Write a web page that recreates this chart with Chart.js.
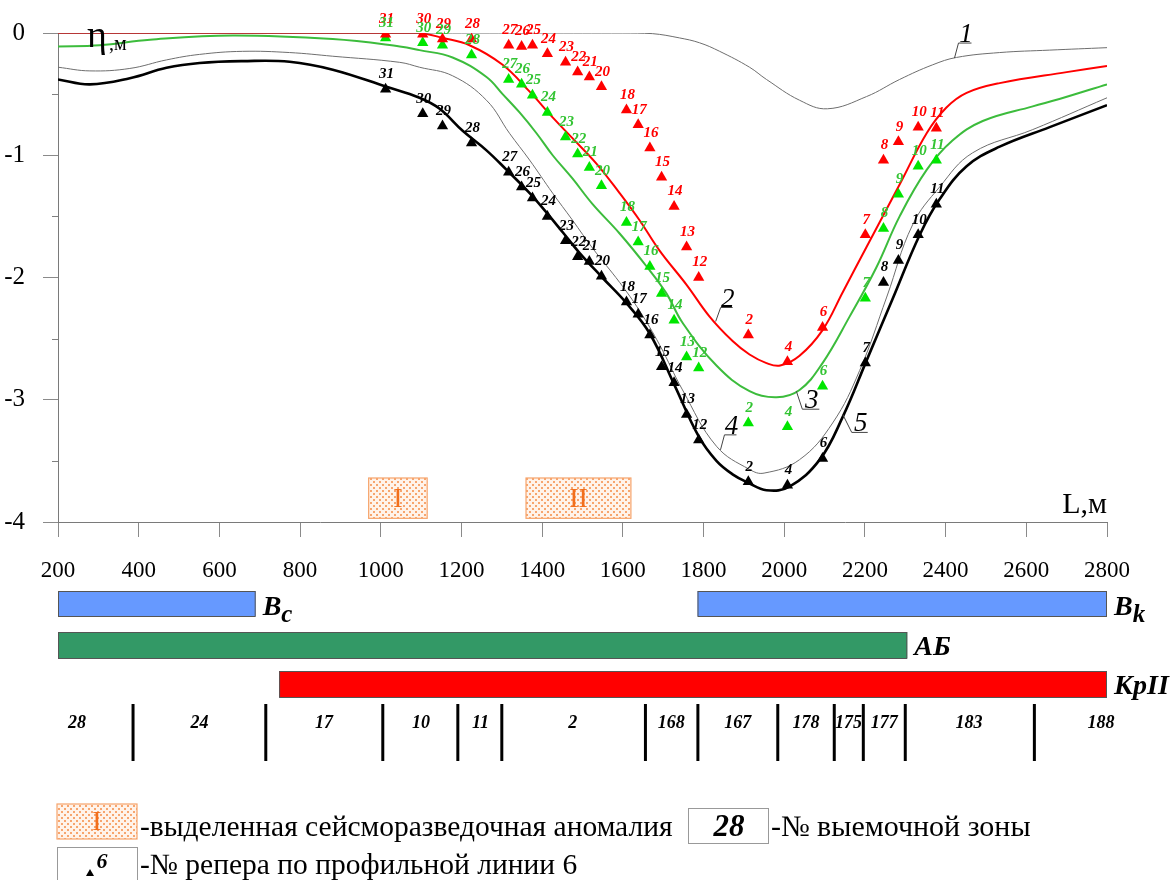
<!DOCTYPE html>
<html>
<head>
<meta charset="utf-8">
<script src="https://cdn.jsdelivr.net/npm/chart.js@4.4.1/dist/chart.umd.min.js"></script>
<style>
  html, body { margin: 0; padding: 0; background: #fff; }
  #wrap { width: 1173px; height: 880px; }
</style>
</head>
<body>
<div id="wrap"><canvas id="subsidence" width="1173" height="880"></canvas></div>
<script>
// --- data ---
// benchmarks (репера) of profile line 6
const benchNums = [31, 30, 29, 28, 27, 26, 25, 24, 23, 22, 21, 20, 18, 17, 16, 15, 14, 13, 12, 2, 4, 6, 7, 8, 9, 10, 11];
const benchL = [1012, 1104, 1153, 1225, 1317, 1349, 1376, 1413, 1458, 1488, 1517, 1547, 1609, 1638, 1667, 1696, 1727, 1758, 1788, 1911, 2008, 2095, 2201, 2246, 2283, 2332, 2377];
const redBench = [-0.01, -0.01, -0.05, -0.05, -0.10, -0.11, -0.10, -0.17, -0.24, -0.32, -0.36, -0.44, -0.63, -0.75, -0.94, -1.18, -1.42, -1.75, -2.00, -2.47, -2.69, -2.41, -1.65, -1.04, -0.89, -0.77, -0.78];
const greenBench = [-0.04, -0.08, -0.10, -0.18, -0.38, -0.42, -0.51, -0.65, -0.85, -0.99, -1.10, -1.25, -1.55, -1.71, -1.91, -2.13, -2.35, -2.65, -2.74, -3.19, -3.22, -2.89, -2.17, -1.60, -1.32, -1.09, -1.04];
const blackBench = [-0.46, -0.66, -0.76, -0.90, -1.14, -1.26, -1.35, -1.50, -1.70, -1.83, -1.87, -1.99, -2.20, -2.30, -2.47, -2.73, -2.86, -3.12, -3.33, -3.67, -3.70, -3.48, -2.70, -2.04, -1.86, -1.65, -1.40];

// curves 1..5
const curve1L = [200, 600, 1000, 1400, 1600, 1673, 1740, 1790, 1840, 1914, 1956, 2038, 2107, 2204, 2286, 2368, 2427, 2534, 2658, 2800];
const curve1V = [0, 0, 0, 0, 0, -0.005, -0.04, -0.08, -0.15, -0.28, -0.38, -0.55, -0.62, -0.52, -0.38, -0.26, -0.20, -0.16, -0.14, -0.12];
const curve2L = [200, 600, 1000, 1096, 1153, 1220, 1302, 1369, 1426, 1475, 1535, 1592, 1641, 1691, 1758, 1815, 1872, 1914, 1956, 1990, 2038, 2095, 2145, 2204, 2286, 2353, 2402, 2452, 2534, 2700, 2800];
const curve2V = [0, 0, 0, 0, -0.04, -0.10, -0.26, -0.48, -0.69, -0.86, -1.07, -1.31, -1.53, -1.78, -2.06, -2.32, -2.52, -2.63, -2.70, -2.72, -2.64, -2.43, -2.12, -1.75, -1.24, -0.82, -0.61, -0.49, -0.41, -0.32, -0.27];
const curve3L = [200, 303, 428, 633, 881, 1047, 1096, 1178, 1262, 1302, 1344, 1386, 1426, 1475, 1525, 1592, 1659, 1708, 1748, 1832, 1914, 1981, 2038, 2095, 2162, 2228, 2286, 2353, 2417, 2492, 2616, 2682, 2800];
const curve3V = [-0.11, -0.10, -0.055, -0.02, -0.05, -0.11, -0.14, -0.20, -0.36, -0.50, -0.65, -0.82, -1.00, -1.19, -1.40, -1.64, -1.91, -2.13, -2.37, -2.72, -2.93, -2.98, -2.92, -2.70, -2.32, -1.92, -1.50, -1.12, -0.88, -0.72, -0.60, -0.54, -0.42];
const curve4L = [200, 279, 378, 469, 551, 657, 774, 881, 1047, 1096, 1178, 1262, 1319, 1369, 1426, 1475, 1525, 1592, 1641, 1691, 1748, 1832, 1914, 1950, 2038, 2120, 2187, 2254, 2318, 2385, 2467, 2616, 2800];
const curve4V = [-0.28, -0.31, -0.29, -0.22, -0.175, -0.15, -0.16, -0.19, -0.24, -0.28, -0.35, -0.55, -0.82, -1.04, -1.31, -1.53, -1.76, -2.04, -2.27, -2.55, -2.92, -3.38, -3.57, -3.60, -3.49, -3.19, -2.76, -2.16, -1.57, -1.26, -0.98, -0.79, -0.53];
const curve5L = [200, 279, 378, 469, 551, 657, 774, 881, 1014, 1096, 1146, 1203, 1262, 1312, 1369, 1411, 1451, 1493, 1549, 1609, 1667, 1728, 1788, 1832, 1872, 1911, 1956, 2013, 2088, 2145, 2204, 2268, 2336, 2385, 2452, 2534, 2658, 2800];
const curve5V = [-0.38, -0.42, -0.37, -0.285, -0.245, -0.23, -0.235, -0.30, -0.44, -0.53, -0.62, -0.80, -0.96, -1.12, -1.31, -1.47, -1.63, -1.80, -2.00, -2.21, -2.46, -2.88, -3.30, -3.50, -3.61, -3.68, -3.74, -3.71, -3.49, -3.14, -2.68, -2.18, -1.65, -1.36, -1.09, -0.93, -0.77, -0.59];

// axis ticks
const xTicks = [200, 400, 600, 800, 1000, 1200, 1400, 1600, 1800, 2000, 2200, 2400, 2600, 2800];
const yTicks = [0, -1, -2, -3, -4];
const yMinorTicks = [-0.5, -1.5, -2.5, -3.5];

// seismic anomalies
const anomalyNames = ['I', 'II'];
const anomalyFrom = [970, 1360];
const anomalyTo = [1115, 1620];
const anomalyTop = -3.64, anomalyBottom = -3.97;

// strata bands under the axis
const bandNames = ['Bc', 'Bk', 'АБ', 'КрII'];
const bandFrom = [200, 1785, 200, 748];
const bandTo = [690, 2800, 2305, 2800];

// mining zones
const zoneBounds = [386, 715, 1005, 1191, 1300, 1656, 1786, 1984, 2124, 2196, 2300, 2620];
const zoneNames = ['28', '24', '17', '10', '11', '2', '168', '167', '178', '175', '177', '183', '188'];
const zoneLabelL = [247, 551, 859, 1100, 1247, 1476, 1720, 1885, 2054, 2159, 2248, 2458, 2785];

const F = '"Liberation Serif", "Times New Roman", serif';
const pts = (xs, ys) => xs.map((x, i) => ({ x: x, y: ys[i] }));

function text(ctx, s, x, y, font, color, align, base) {
  ctx.font = font;
  ctx.fillStyle = color || '#000';
  ctx.textAlign = align || 'center';
  ctx.textBaseline = base || 'middle';
  ctx.fillText(s, x, y);
}

function dotPattern(ctx) {
  const c = document.createElement('canvas');
  c.width = 6; c.height = 6;
  const g = c.getContext('2d');
  g.fillStyle = '#fff3ea';
  g.fillRect(0, 0, 6, 6);
  g.fillStyle = '#f7a56e';
  g.fillRect(1, 1, 2, 2);
  g.fillRect(4, 4, 2, 2);
  return ctx.createPattern(c, 'repeat');
}

function lineDs(label, xs, ys, color, width) {
  return {
    label: label, data: pts(xs, ys), showLine: true, borderColor: color, borderWidth: width,
    pointRadius: 0, tension: 0.4, fill: false, order: 2
  };
}
function benchDs(label, ys, color, textColor) {
  return {
    label: label, data: pts(benchL, ys), showLine: false, pointStyle: 'triangle',
    pointRadius: 6.5, backgroundColor: color, borderColor: color, borderWidth: 0,
    order: 1, numColor: textColor
  };
}

// curve number tags with leader lines: anchor on curve, leader offset, underline width
const curveTags = [
  { t: '1', L: 2422, v: -0.205, dx: 4, dy: -15, w: 13 },
  { t: '2', L: 1830, v: -2.36, dx: 5, dy: -14, w: 12 },
  { t: '3', L: 2030, v: -2.93, dx: 6, dy: 18, w: 17 },
  { t: '4', L: 1842, v: -3.41, dx: 4, dy: -15, w: 12 },
  { t: '5', L: 2145, v: -3.12, dx: 9, dy: 18, w: 16 }
];

const decorations = {
  id: 'decorations',
  beforeDatasetsDraw(chart) {
    const ctx = chart.ctx, xs = chart.scales.x, ys = chart.scales.y;
    ctx.save();
    const pat = dotPattern(ctx);
    anomalyNames.forEach((n, i) => {
      const x0 = xs.getPixelForValue(anomalyFrom[i]), x1 = xs.getPixelForValue(anomalyTo[i]);
      const y0 = ys.getPixelForValue(anomalyTop), y1 = ys.getPixelForValue(anomalyBottom);
      ctx.fillStyle = pat;
      ctx.fillRect(x0, y0, x1 - x0, y1 - y0);
      ctx.strokeStyle = '#f6a46c';
      ctx.lineWidth = 1.2;
      ctx.strokeRect(x0, y0, x1 - x0, y1 - y0);
      text(ctx, n, (x0 + x1) / 2, (y0 + y1) / 2 + 1, '28px ' + F, '#f26f1c');
    });
    // minor ticks of the y axis
    ctx.strokeStyle = '#808080';
    ctx.lineWidth = 1;
    yMinorTicks.forEach(v => {
      const y = Math.round(ys.getPixelForValue(v)) + 0.5;
      ctx.beginPath();
      ctx.moveTo(chart.chartArea.left - 6, y);
      ctx.lineTo(chart.chartArea.left, y);
      ctx.stroke();
    });
    ctx.restore();
  },
  afterDatasetsDraw(chart) {
    const ctx = chart.ctx, xs = chart.scales.x, ys = chart.scales.y;
    ctx.save();
    // benchmark numbers
    chart.data.datasets.forEach((ds, di) => {
      if (!ds.numColor) return;
      chart.getDatasetMeta(di).data.forEach((p, i) => {
        text(ctx, String(benchNums[i]), p.x + 1, p.y - 15, 'italic bold 15px ' + F, ds.numColor);
      });
    });
    // curve numbers
    ctx.strokeStyle = '#444';
    ctx.lineWidth = 1;
    curveTags.forEach(c => {
      const x = xs.getPixelForValue(c.L), y = ys.getPixelForValue(c.v);
      ctx.beginPath();
      ctx.moveTo(x, y);
      ctx.lineTo(x + c.dx, y + c.dy);
      ctx.lineTo(x + c.dx + c.w, y + c.dy);
      ctx.stroke();
      text(ctx, c.t, x + c.dx + c.w / 2 + 1, y + c.dy - 1, 'italic 27px ' + F, '#000', 'center', 'alphabetic');
    });
    // axis titles
    text(ctx, 'η', 87, 47, '38px ' + F, '#000', 'left', 'alphabetic');
    text(ctx, ',м', 109, 50, '20px ' + F, '#000', 'left', 'alphabetic');
    text(ctx, 'L,м', 1107, 513, '30px ' + F, '#000', 'right', 'alphabetic');

    // strata bands
    const rows = [[591, 616], [591, 616], [632, 658], [671, 697]];
    const fills = ['#6699ff', '#6699ff', '#339966', '#ff0000'];
    bandNames.forEach((n, i) => {
      const x0 = xs.getPixelForValue(bandFrom[i]), x1 = xs.getPixelForValue(bandTo[i]);
      ctx.fillStyle = fills[i];
      ctx.fillRect(x0, rows[i][0], x1 - x0, rows[i][1] - rows[i][0]);
      ctx.strokeStyle = '#555';
      ctx.lineWidth = 1;
      ctx.strokeRect(x0 + 0.5, rows[i][0] + 0.5, x1 - x0 - 1, rows[i][1] - rows[i][0]);
      const tx = x1 + 7;
      const bi = 'italic bold 28px ' + F;
      if (n === 'Bc' || n === 'Bk') {
        text(ctx, 'B', tx, 615, bi, '#000', 'left', 'alphabetic');
        const w = ctx.measureText('B').width;
        text(ctx, n.slice(1), tx + w, 622, 'italic bold 25px ' + F, '#000', 'left', 'alphabetic');
      } else {
        text(ctx, n, tx, rows[i][1] - 3, bi, '#000', 'left', 'alphabetic');
      }
    });

    // mining zones
    ctx.strokeStyle = '#000';
    ctx.lineWidth = 3;
    zoneBounds.forEach(L => {
      const x = xs.getPixelForValue(L);
      ctx.beginPath();
      ctx.moveTo(x, 704);
      ctx.lineTo(x, 761);
      ctx.stroke();
    });
    zoneNames.forEach((n, i) => {
      text(ctx, n, xs.getPixelForValue(zoneLabelL[i]), 723, 'italic bold 18px ' + F, '#000');
    });

    // legend
    ctx.fillStyle = dotPattern(ctx);
    ctx.fillRect(57, 804, 80, 35);
    ctx.strokeStyle = '#f6a46c';
    ctx.lineWidth = 1.2;
    ctx.strokeRect(57, 804, 80, 35);
    text(ctx, 'I', 97, 823, '28px ' + F, '#f26f1c');
    text(ctx, '-выделенная сейсморазведочная аномалия', 140, 828, '29.5px ' + F, '#000', 'left');

    ctx.strokeStyle = '#999';
    ctx.lineWidth = 1;
    ctx.strokeRect(688.5, 808.5, 80, 35);
    text(ctx, '28', 729, 828, 'italic bold 31px ' + F, '#000');
    text(ctx, '-№ выемочной зоны', 771, 828, '30px ' + F, '#000', 'left');

    ctx.strokeRect(57.5, 847.5, 80, 40);
    ctx.fillStyle = '#000';
    ctx.beginPath();
    ctx.moveTo(90, 869); ctx.lineTo(94, 876); ctx.lineTo(86, 876); ctx.closePath();
    ctx.fill();
    text(ctx, '6', 102, 862, 'italic bold 22px ' + F, '#000');
    text(ctx, '-№ репера по профильной линии 6', 140, 866, '29.5px ' + F, '#000', 'left');
    ctx.restore();
  }
};

new Chart(document.getElementById('subsidence'), {
  type: 'scatter',
  data: {
    datasets: [
      benchDs('репера, кривая 2', redBench, '#ff0000', '#ff0000'),
      benchDs('репера, кривая 3', greenBench, '#00e600', '#33c433'),
      benchDs('репера, кривая 5', blackBench, '#000000', '#000000'),
      lineDs('1', curve1L, curve1V, '#6e6e6e', 1),
      lineDs('2', curve2L, curve2V, '#ff0000', 2),
      lineDs('3', curve3L, curve3V, '#3cbc3c', 2),
      lineDs('4', curve4L, curve4V, '#6e6e6e', 1),
      lineDs('5', curve5L, curve5V, '#000000', 2.6)
    ]
  },
  options: {
    responsive: false,
    animation: false,
    layout: { padding: { left: 0, right: 66, top: 33, bottom: 0 } },
    plugins: { legend: { display: false }, tooltip: { enabled: false } },
    scales: {
      x: {
        type: 'linear', min: 200, max: 2800,
        afterFit: s => { s.height = 358; },
        afterBuildTicks: s => { s.ticks = xTicks.map(v => ({ value: v })); },
        grid: { drawOnChartArea: false, tickLength: 15, color: '#8a8a8a' },
        border: { color: '#7a7a7a', width: 1 },
        ticks: { padding: 20, color: '#000', font: { family: F, size: 23 }, maxRotation: 0, callback: v => String(v) }
      },
      y: {
        type: 'linear', min: -4, max: 0,
        afterFit: s => { s.width = 58; },
        afterBuildTicks: s => { s.ticks = yTicks.map(v => ({ value: v })); },
        grid: { drawOnChartArea: false, tickLength: 15, color: '#8a8a8a' },
        border: { color: '#7a7a7a', width: 1 },
        ticks: { padding: 18, color: '#000', font: { family: F, size: 25 }, callback: v => String(v) }
      }
    }
  },
  plugins: [decorations]
});
</script>
</body>
</html>
